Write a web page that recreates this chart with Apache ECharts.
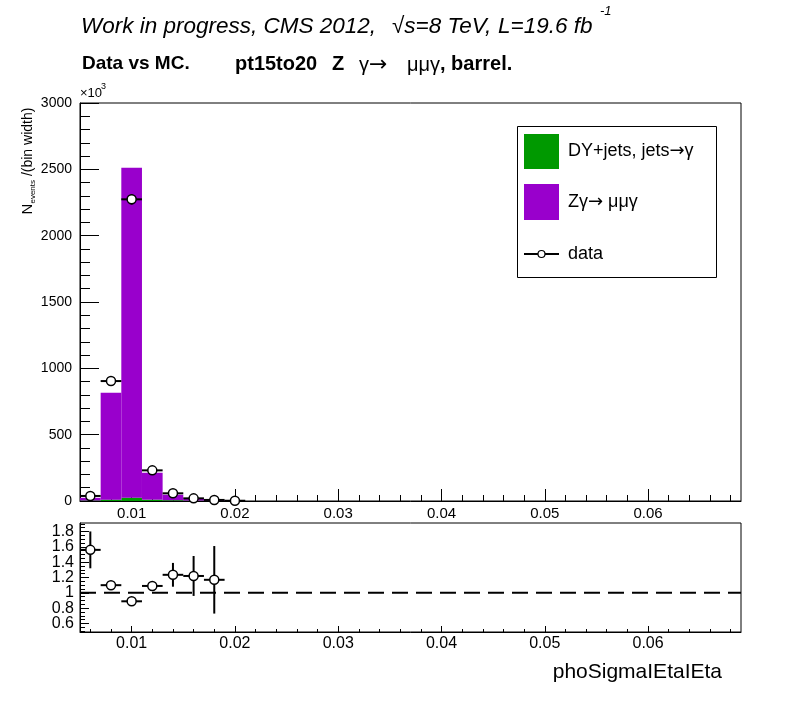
<!DOCTYPE html>
<html><head><meta charset="utf-8">
<script src="https://cdn.jsdelivr.net/npm/echarts@6/dist/echarts.min.js"></script>
<style>html,body{margin:0;padding:0;background:#fff}#c{width:796px;height:724px}</style>
</head><body><div id="c"></div>
<script>
// ---- data ----
const binLow = [0.005, 0.007, 0.009, 0.011, 0.013, 0.015, 0.017, 0.019];
const binWidth = 0.002;
const dyJets = [4, 10, 25, 10, 6, 3, 2, 0.5];
const zGamma = [20, 806, 2487, 203, 41, 14, 5, 0.5];
const dataX = [0.006, 0.008, 0.010, 0.012, 0.014, 0.016, 0.018, 0.020];
const dataY = [38, 904, 2274, 231, 58, 20, 8, 2];
const dataErr = [6, 25, 40, 13, 7, 4, 3, 3];
const ratioX = [0.006, 0.008, 0.010, 0.012, 0.014, 0.016, 0.018];
const ratioY = [1.56, 1.10, 0.89, 1.09, 1.235, 1.22, 1.17];
const ratioErr = [0.24, 0.02, 0.02, 0.03, 0.155, 0.26, 0.44];
// ---- ticks ----
const xMajor = [0.01, 0.02, 0.03, 0.04, 0.05, 0.06];
const xMinor = [0.006,0.008,0.012,0.014,0.016,0.018,0.022,0.024,0.026,0.028,0.032,0.034,0.036,0.038,0.042,0.044,0.046,0.048,0.052,0.054,0.056,0.058,0.062,0.064,0.066,0.068];
const rMajor = [0.6, 0.8, 1, 1.2, 1.4, 1.6, 1.8];
const rLabelsA = [0.6, 1, 1.4, 1.8];
const rLabelsB = [0.8, 1.2, 1.6];
const rMinor = [0.5,0.55,0.65,0.7,0.75,0.85,0.9,0.95,1.05,1.1,1.15,1.25,1.3,1.35,1.45,1.5,1.55,1.65,1.7,1.75,1.85,1.9];

const FONT = '"Liberation Sans", Arial, Helvetica, sans-serif';
const SYM = '"DejaVu Sans", sans-serif';
const GREEN = '#009900', PURPLE = '#9900cc';
const XMIN = 0.005, XMAX = 0.069;

const chart = echarts.init(document.getElementById('c'), null, {renderer: 'canvas'});

function rectItem(color) {
  return function (params, api) {
    const p0 = api.coord([api.value(0), api.value(3)]);
    const p1 = api.coord([api.value(1), api.value(2)]);
    return {type: 'rect', shape: {x: p0[0], y: p0[1], width: p1[0] - p0[0], height: p1[1] - p0[1]},
      style: {fill: color}};
  };
}
function pointItem(r) {
  return function (params, api) {
    const x = api.value(0), y = api.value(1), e = api.value(2), hw = api.value(3);
    const c = api.coord([x, y]);
    const l = api.coord([x - hw, y]), rr = api.coord([x + hw, y]);
    const top = api.coord([x, y + e]), bot = api.coord([x, y - e]);
    return {type: 'group', children: [
      {type: 'line', shape: {x1: l[0], y1: c[1], x2: rr[0], y2: c[1]}, style: {stroke: '#000', lineWidth: 2}},
      {type: 'line', shape: {x1: c[0], y1: top[1], x2: c[0], y2: bot[1]}, style: {stroke: '#000', lineWidth: 2}},
      {type: 'circle', shape: {cx: c[0], cy: c[1], r: r}, style: {fill: '#fff', stroke: '#000', lineWidth: 1.5}}
    ]};
  };
}

const axLine = {show: true, lineStyle: {color: '#000', width: 1}};
function xAxes(grid, labelSize, margin, majLen, minLen) {
  return [
    {gridIndex: grid, type: 'value', min: XMIN, max: XMAX, position: 'bottom',
      axisLine: axLine, splitLine: {show: false},
      axisTick: {show: true, inside: true, length: majLen, customValues: xMajor, lineStyle: {color: '#000'}},
      axisLabel: {show: true, customValues: xMajor, color: '#000', fontFamily: FONT, fontSize: labelSize, margin: margin}},
    {gridIndex: grid, type: 'value', min: XMIN, max: XMAX, position: 'bottom',
      axisLine: {show: false}, splitLine: {show: false}, axisLabel: {show: false},
      axisTick: {show: true, inside: true, length: minLen, customValues: xMinor, lineStyle: {color: '#000'}}}
  ];
}
function txt(x, y, text, font, extra) {
  return Object.assign({type: 'text', x: x, y: y, style: {text: text, font: font, fill: '#000', textVerticalAlign: 'middle'}}, extra || {});
}
const rLabel = {showMinLabel: true, showMaxLabel: true, hideOverlap: false,
  color: '#000', fontFamily: FONT, fontSize: 16, margin: 6, formatter: v => String(v)};

const option = {
  animation: false,
  backgroundColor: '#fff',
  grid: [
    {left: 80, right: 55, top: 103, height: 398, show: true, borderColor: '#000', borderWidth: 1, backgroundColor: 'transparent'},
    {left: 80, right: 55, top: 523, height: 109, show: true, borderColor: '#000', borderWidth: 1, backgroundColor: 'transparent'}
  ],
  xAxis: [].concat(xAxes(0, 15, 5, 12, 6), xAxes(1, 16, 4, 6, 3)),
  yAxis: [
    {gridIndex: 0, type: 'value', min: 0, max: 3000, interval: 500, position: 'left',
      axisLine: axLine, splitLine: {show: false},
      axisTick: {show: true, inside: true, length: 19, lineStyle: {color: '#000'}},
      minorTick: {show: true, splitNumber: 5, length: 10, lineStyle: {color: '#000'}},
      axisLabel: {color: '#000', fontFamily: FONT, fontSize: 14, margin: 8, formatter: v => String(v)}},
    {gridIndex: 1, type: 'value', min: 0.49, max: 1.91, position: 'left',
      axisLine: axLine, splitLine: {show: false},
      axisTick: {show: true, inside: true, length: 9, customValues: rMajor, lineStyle: {color: '#000'}},
      axisLabel: Object.assign({customValues: rLabelsA}, rLabel)},
    {gridIndex: 1, type: 'value', min: 0.49, max: 1.91, position: 'left', offset: 0,
      axisLine: {show: false}, splitLine: {show: false},
      axisLabel: Object.assign({customValues: rLabelsB}, rLabel),
      axisTick: {show: true, inside: true, length: 5, customValues: rMinor, lineStyle: {color: '#000'}}}
  ],
  series: [
    {type: 'custom', name: 'DY', xAxisIndex: 0, yAxisIndex: 0, renderItem: rectItem(GREEN), z: 2,
      encode: {x: [0, 1], y: [2, 3]},
      data: binLow.map((x, i) => [x, x + binWidth, 0, dyJets[i]])},
    {type: 'custom', name: 'Zg', xAxisIndex: 0, yAxisIndex: 0, renderItem: rectItem(PURPLE), z: 2,
      encode: {x: [0, 1], y: [2, 3]},
      data: binLow.map((x, i) => [x, x + binWidth, dyJets[i], dyJets[i] + zGamma[i]])},
    {type: 'custom', name: 'data', xAxisIndex: 0, yAxisIndex: 0, renderItem: pointItem(4.5), z: 5,
      encode: {x: 0, y: 1},
      data: dataX.map((x, i) => [x, dataY[i], dataErr[i], binWidth / 2])},
    {type: 'line', xAxisIndex: 2, yAxisIndex: 1, symbol: 'none', z: 3,
      lineStyle: {color: '#000', width: 2, type: [16, 8]},
      data: [[XMIN, 1], [XMAX, 1]]},
    {type: 'custom', name: 'ratio', xAxisIndex: 2, yAxisIndex: 1, renderItem: pointItem(4.5), z: 5,
      encode: {x: 0, y: 1},
      data: ratioX.map((x, i) => [x, ratioY[i], ratioErr[i], binWidth / 2])}
  ],
  graphic: [
    txt(81, 27, 'Work in progress, CMS 2012,', 'italic 22.5px ' + FONT),
    txt(392, 27, '√s=8 TeV,', 'italic 22.5px ' + FONT),
    txt(498, 27, 'L=19.6 fb', 'italic 22.5px ' + FONT),
    txt(600, 11, '-1', 'italic 13px ' + FONT),
    txt(82, 64, 'Data vs MC.', 'bold 19px ' + FONT),
    txt(235, 64, 'pt15to20', 'bold 20px ' + FONT),
    txt(332, 64, 'Z', 'bold 20px ' + FONT),
    {type: 'text', x: 359, y: 65, style: {text: '{g|γ}{a|→}', fill: '#000', textVerticalAlign: 'middle',
      rich: {g: {fontFamily: FONT, fontSize: 20, fill: '#000'}, a: {fontFamily: SYM, fontSize: 22, fill: '#000'}}}},
    txt(407, 65, 'μμγ', '20px ' + FONT),
    txt(440, 64, ', barrel.', 'bold 20px ' + FONT),
    txt(80, 93, '×10', '13px ' + FONT),
    txt(101, 87, '3', '9px ' + FONT),
    {type: 'text', x: 28, y: 161, rotation: Math.PI / 2,
      style: {text: '{n|N}{s|events}{r| /(bin width)}', textAlign: 'center', textVerticalAlign: 'middle', fill: '#000',
        rich: {n: {fontFamily: FONT, fontSize: 15, fill: '#000', lineHeight: 18},
               s: {fontFamily: FONT, fontSize: 8, fill: '#000', verticalAlign: 'bottom', lineHeight: 18},
               r: {fontFamily: FONT, fontSize: 14, fill: '#000', lineHeight: 18}}}},
    {type: 'text', x: 722, y: 672, style: {text: 'phoSigmaIEtaIEta', font: '21px ' + FONT, fill: '#000', textAlign: 'right', textVerticalAlign: 'middle'}},
    // legend
    {type: 'rect', shape: {x: 517.5, y: 126.5, width: 199, height: 151}, style: {fill: '#fff', stroke: '#000', lineWidth: 1}, z: 10},
    {type: 'rect', shape: {x: 524, y: 134, width: 35, height: 35}, style: {fill: GREEN}, z: 11},
    {type: 'rect', shape: {x: 524, y: 184, width: 35, height: 36}, style: {fill: PURPLE}, z: 11},
    {type: 'line', shape: {x1: 524, y1: 254, x2: 559, y2: 254}, style: {stroke: '#000', lineWidth: 2}, z: 11},
    {type: 'circle', shape: {cx: 541.5, cy: 254, r: 3.5}, style: {fill: '#fff', stroke: '#000', lineWidth: 1.2}, z: 12},
    {type: 'text', x: 568, y: 151, z: 11, style: {text: '{t|DY+jets, jets}{a|→}{t|γ}', fill: '#000', textVerticalAlign: 'middle',
      rich: {t: {fontFamily: FONT, fontSize: 18, fill: '#000'}, a: {fontFamily: SYM, fontSize: 18, fill: '#000'}}}},
    {type: 'text', x: 568, y: 202, z: 11, style: {text: '{t|Zγ}{a|→}{t| μμγ}', fill: '#000', textVerticalAlign: 'middle',
      rich: {t: {fontFamily: FONT, fontSize: 18, fill: '#000'}, a: {fontFamily: SYM, fontSize: 18, fill: '#000'}}}},
    txt(568, 254, 'data', '18px ' + FONT, {z: 11})
  ]
};
chart.setOption(option);
</script></body></html>
